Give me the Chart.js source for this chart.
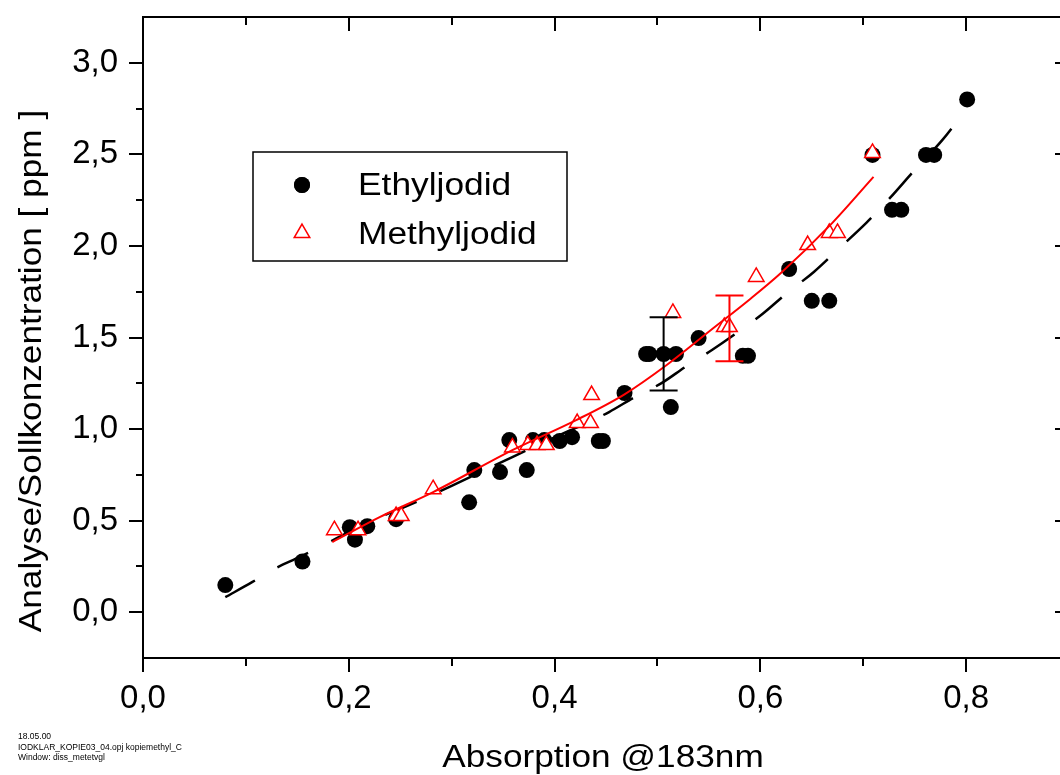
<!DOCTYPE html>
<html>
<head>
<meta charset="utf-8">
<title>Absorption @183nm</title>
<script src="https://cdn.jsdelivr.net/npm/chart.js@4.4.0/dist/chart.umd.min.js"></script>
<style>
  html, body { margin: 0; padding: 0; background: #fff; overflow: hidden; }
  #wrap { width: 1080px; height: 775px; }
</style>
</head>
<body>
<div id="wrap"><canvas id="chartCalib" width="1080" height="775"></canvas></div>
<script>
// measured points, absorption vs. analysed/nominal concentration
const ethylX = [0.080, 0.155, 0.201, 0.206, 0.218, 0.246, 0.317, 0.322, 0.347, 0.373,
                0.356, 0.379, 0.390, 0.405, 0.417, 0.443, 0.447, 0.468, 0.489, 0.492,
                0.506, 0.518, 0.513, 0.540, 0.583, 0.588, 0.628, 0.650, 0.667, 0.709,
                0.728, 0.737, 0.761, 0.769, 0.801];
const ethylY = [0.148, 0.277, 0.464, 0.396, 0.470, 0.508, 0.600, 0.776, 0.765, 0.776,
                0.940, 0.940, 0.940, 0.935, 0.956, 0.935, 0.935, 1.197, 1.410, 1.410,
                1.410, 1.410, 1.120, 1.497, 1.400, 1.400, 1.874, 1.700, 1.700, 2.497,
                2.197, 2.197, 2.497, 2.497, 2.800];

const methylX = [0.186, 0.209, 0.246, 0.251, 0.282, 0.359, 0.374, 0.383, 0.392, 0.422,
                 0.435, 0.436, 0.515, 0.565, 0.570, 0.596, 0.646, 0.667, 0.675, 0.709];
const methylY = [0.448, 0.448, 0.525, 0.525, 0.672, 0.900, 0.913, 0.913, 0.913, 1.033,
                 1.033, 1.186, 1.634, 1.557, 1.557, 1.831, 2.005, 2.071, 2.071, 2.508];

// fitted curves
const ethylFitX = [0.080, 0.106, 0.129, 0.152, 0.179, 0.198, 0.228, 0.254, 0.300, 0.360,
                   0.400, 0.431, 0.453, 0.478, 0.504, 0.527, 0.553, 0.577, 0.602, 0.626,
                   0.652, 0.677, 0.703, 0.726, 0.751, 0.777, 0.801];
const ethylFitY = [0.082, 0.164, 0.240, 0.301, 0.377, 0.432, 0.514, 0.574, 0.690, 0.850,
                   0.955, 1.033, 1.093, 1.175, 1.251, 1.339, 1.432, 1.525, 1.628, 1.743,
                   1.858, 1.989, 2.126, 2.262, 2.421, 2.579, 2.754];

const methylFitX = [0.184, 0.230, 0.282, 0.359, 0.421, 0.468, 0.509, 0.552, 0.589, 0.620, 0.670, 0.710];
const methylFitY = [0.383, 0.519, 0.656, 0.885, 1.049, 1.190, 1.350, 1.541, 1.705, 1.852, 2.126, 2.377];

// error bars: x, centre, half-width
const errX = [0.506, 0.570];
const errY = [1.41, 1.55];
const errD = [0.20, 0.18];
const errColor = ['#000000', '#ff0000'];

// axis ticks
const xMajor = [0, 0.2, 0.4, 0.6, 0.8];
const xMinor = [0.1, 0.3, 0.5, 0.7];
const yMajor = [0, 0.5, 1.0, 1.5, 2.0, 2.5, 3.0];
const yMinor = [0.25, 0.75, 1.25, 1.75, 2.25, 2.75];

const seriesNames = ['Ethyljodid', 'Methyljodid'];
const xTitle = 'Absorption @183nm';
const yTitle = 'Analyse/Sollkonzentration [ ppm ]';
const footLines = ['18.05.00', 'IODKLAR_KOPIE03_04.opj kopiemethyl_C', 'Window: diss_metetvgl'];

const FONT = "'Liberation Sans', Arial, sans-serif";
const RED = '#ff0000';

const zipXY = (xs, ys) => xs.map((v, i) => ({ x: v, y: ys[i] }));
const fmt = v => v.toFixed(1).replace('.', ',');

// text widened along its baseline (Origin renders its labels a bit wide)
function wideText(ctx, text, x, y, sx, rot) {
  ctx.save();
  ctx.translate(x, y);
  if (rot) ctx.rotate(rot);
  ctx.scale(sx, 1);
  ctx.fillText(text, 0, 0);
  ctx.restore();
}

// frame, ticks on all four sides, error bars, legend box and texts
const decor = {
  id: 'decor',
  afterDatasetsDraw(chart) {
    const { ctx, scales: { x, y } } = chart;
    ctx.save();
    ctx.lineWidth = 2;
    errX.forEach((v, i) => {
      const px = x.getPixelForValue(v);
      const top = y.getPixelForValue(errY[i] + errD[i]);
      const bot = y.getPixelForValue(errY[i] - errD[i]);
      ctx.strokeStyle = errColor[i];
      ctx.beginPath();
      ctx.moveTo(px, top); ctx.lineTo(px, bot);
      ctx.moveTo(px - 14, top); ctx.lineTo(px + 14, top);
      ctx.moveTo(px - 14, bot); ctx.lineTo(px + 14, bot);
      ctx.stroke();
    });
    ctx.restore();
  },
  afterDraw(chart) {
    const { ctx, chartArea: a, scales: { x, y } } = chart;
    ctx.save();
    ctx.strokeStyle = '#000';
    ctx.lineWidth = 2;
    ctx.strokeRect(a.left, a.top, a.right - a.left, a.bottom - a.top);

    ctx.beginPath();
    const xTick = (v, len) => {
      const px = Math.round(x.getPixelForValue(v));
      ctx.moveTo(px, a.bottom); ctx.lineTo(px, a.bottom + len);
      ctx.moveTo(px, a.top); ctx.lineTo(px, a.top + len);
    };
    const yTick = (v, len) => {
      const py = Math.round(y.getPixelForValue(v));
      ctx.moveTo(a.left, py); ctx.lineTo(a.left - len, py);
      ctx.moveTo(a.right, py); ctx.lineTo(a.right - len, py);
    };
    xMajor.forEach(v => xTick(v, 14));
    xMinor.forEach(v => xTick(v, 8));
    yMajor.forEach(v => yTick(v, 14));
    yMinor.forEach(v => yTick(v, 7));
    ctx.stroke();

    // legend
    ctx.lineWidth = 1.5;
    ctx.strokeRect(253, 152, 314, 109);
    Chart.helpers.drawPoint(ctx, { pointStyle: 'circle', radius: 8, borderWidth: 0 }, 302, 185);
    ctx.fillStyle = '#000';
    ctx.fill();
    ctx.strokeStyle = RED;
    ctx.fillStyle = '#fff';
    ctx.lineWidth = 1.5;
    Chart.helpers.drawPoint(ctx, { pointStyle: 'triangle', radius: 9, borderWidth: 1.5 }, 302, 233);
    ctx.fillStyle = '#000';
    ctx.font = '31px ' + FONT;
    ctx.textBaseline = 'alphabetic';
    ctx.textAlign = 'left';
    wideText(ctx, seriesNames[0], 358, 195, 1.14);
    wideText(ctx, seriesNames[1], 358, 244, 1.14);

    // axis titles
    ctx.font = '32px ' + FONT;
    ctx.textAlign = 'center';
    wideText(ctx, xTitle, 603, 767, 1.10);
    wideText(ctx, yTitle, 41, 371, 1.10, -Math.PI / 2);

    // file stamp
    ctx.font = '8.5px ' + FONT;
    ctx.textAlign = 'left';
    footLines.forEach((t, i) => ctx.fillText(t, 18, 739 + i * 10.5));
    ctx.restore();
  }
};

new Chart(document.getElementById('chartCalib'), {
  type: 'scatter',
  data: {
    datasets: [
      {
        label: seriesNames[1] + ' fit',
        data: zipXY(methylFitX, methylFitY),
        showLine: true, pointRadius: 0,
        borderColor: RED, borderWidth: 2,
        cubicInterpolationMode: 'monotone',
        order: 0,
      },
      {
        label: seriesNames[1],
        data: zipXY(methylX, methylY),
        pointStyle: 'triangle', pointRadius: 9,
        borderColor: RED, backgroundColor: '#fff', borderWidth: 1.5,
        order: 1,
      },
      {
        label: seriesNames[0] + ' fit',
        data: zipXY(ethylFitX, ethylFitY),
        showLine: true, pointRadius: 0,
        borderColor: '#000', borderWidth: 2.5,
        borderDash: [34, 26],
        cubicInterpolationMode: 'monotone',
        order: 2,
      },
      {
        label: seriesNames[0],
        data: zipXY(ethylX, ethylY),
        pointStyle: 'circle', pointRadius: 8,
        backgroundColor: '#000', borderWidth: 0,
        order: 3,
      },
    ]
  },
  options: {
    responsive: false,
    animation: false,
    layout: { padding: { top: 17, right: 11, left: 0, bottom: 0 } },
    plugins: {
      legend: { display: false },
      tooltip: { enabled: false },
    },
    scales: {
      x: {
        type: 'linear', position: 'bottom',
        min: 0, max: 0.9,
        grid: { display: false, drawTicks: false },
        border: { display: false },
        afterBuildTicks: s => { s.ticks = xMajor.map(v => ({ value: v })); },
        afterFit: s => { s.height = 117; s.paddingLeft = 0; s.paddingRight = 0; },
        ticks: {
          color: '#000', padding: 21, maxRotation: 0,
          font: { family: FONT, size: 33 },
          callback: v => fmt(v),
        },
      },
      y: {
        type: 'linear', position: 'left',
        min: -0.25, max: 3.25,
        grid: { display: false, drawTicks: false },
        border: { display: false },
        afterBuildTicks: s => { s.ticks = yMajor.map(v => ({ value: v })); },
        afterFit: s => { s.width = 143; s.paddingTop = 0; s.paddingBottom = 0; },
        ticks: {
          color: '#000', padding: 25,
          font: { family: FONT, size: 33 },
          callback: v => fmt(v),
        },
      },
    },
  },
  plugins: [decor],
});
</script>
</body>
</html>
